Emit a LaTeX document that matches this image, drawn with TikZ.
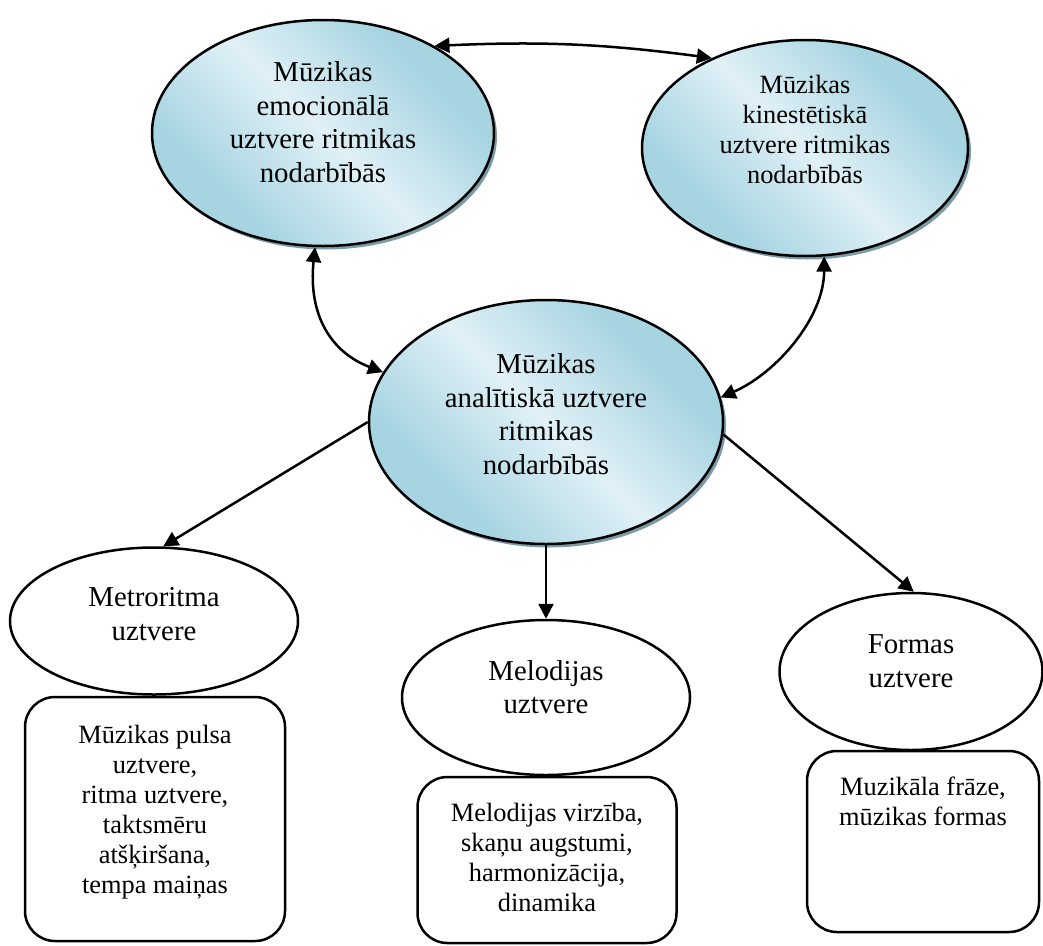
\documentclass[tikz,border=0pt]{standalone}
\usepackage{fontspec}
\setmainfont{Liberation Serif}
\usetikzlibrary{shapes.geometric,arrows.meta,shadows}
\definecolor{bdark}{RGB}{166,212,225}
\definecolor{blight}{RGB}{224,240,246}
\definecolor{shadowc}{RGB}{125,155,167}
\pgfdeclarehorizontalshading{bluediag}{100bp}{color(0bp)=(bdark); color(30bp)=(bdark); color(50bp)=(blight); color(70bp)=(bdark); color(100bp)=(bdark)}
\begin{document}
\begin{tikzpicture}[x=1pt,y=-1pt,
  every node/.style={inner sep=0pt, align=center},
  bigtext/.style={font=\fontsize{28.8}{33.5}\selectfont},
  midtext/.style={font=\fontsize{26.4}{30}\selectfont},
  bluebubble/.style={ellipse, draw=black, line width=2.5pt, shade, shading=bluediag, shading angle=45,
    drop shadow={shadow xshift=3pt, shadow yshift=-3.5pt, fill=shadowc, opacity=1}},
  plainbubble/.style={ellipse, draw=black, line width=2.5pt, fill=white},
  notebox/.style={rectangle, rounded corners=30pt, draw=black, line width=2.5pt, fill=white},
  conn/.style={line width=2.5pt, {Triangle[length=15pt,width=15pt]}-{Triangle[length=15pt,width=15pt]}},
  arr/.style={line width=2.5pt, -{Triangle[length=15pt,width=15pt]}}
]
\useasboundingbox (0,0) rectangle (1043,945);

% three shaded perception ellipses
\node[bluebubble, minimum width=342pt, minimum height=226pt] (e1) at (323,133) {};
\node[bluebubble, minimum width=326pt, minimum height=216pt] (e2) at (805,148) {};
\node[bluebubble, minimum width=354pt, minimum height=244pt] (e3) at (546,422) {};
\node[bigtext] (e1t) at (323,122) {Mūzikas\\emocionālā\\uztvere ritmikas\\nodarbībās};
\node[midtext] (e2t) at (805,129) {Mūzikas\\kinestētiskā\\uztvere ritmikas\\nodarbībās};
\node[bigtext] (e3t) at (546,414) {Mūzikas\\analītiskā uztvere\\ritmikas\\nodarbībās};

% lower ellipses
\node[plainbubble, minimum width=288pt, minimum height=147pt] (m1) at (154,621) {};
\node[plainbubble, minimum width=288pt, minimum height=155pt] (m2) at (546,697.5) {};
\node[plainbubble, minimum width=263pt, minimum height=157pt] (m3) at (911,671.5) {};
\node[bigtext] (m1t) at (154,614) {Metroritma\\uztvere};
\node[bigtext] (m2t) at (546,687) {Melodijas\\uztvere};
\node[bigtext] (m3t) at (911,661) {Formas\\uztvere};

% description boxes
\node[notebox, minimum width=260pt, minimum height=244pt] (b1) at (155,819) {};
\node[notebox, minimum width=259pt, minimum height=166pt] (b2) at (547,860) {};
\node[notebox, minimum width=232pt, minimum height=181pt] (b3) at (923,841.5) {};
\node[midtext] (b1t) at (155,812) {Mūzikas pulsa\\uztvere,\\ritma uztvere,\\taktsmēru\\atšķiršana,\\tempa maiņas};
\node[midtext] (b2t) at (547,857) {Melodijas virzība,\\skaņu augstumi,\\harmonizācija,\\dinamika};
\node[midtext, anchor=north] (b3t) at (923,777) {Muzikāla frāze,\\mūzikas formas};

% connectors
\draw[conn] (e1.38) to[bend left=5] (e2.136.4);
\draw[conn] (e1.266) .. controls +(-7,68) and +(-52,-20) .. (e3.163);
\draw[conn] (e2.280) .. controls +(0,62) and +(55,-24) .. (e3.8);
\draw[arr] (e3.west) -- (m1.83);
\draw[arr] (e3.south) -- (m2.north);
\draw[arr] (e3.356) -- (m3.88);
\end{tikzpicture}
\end{document}
